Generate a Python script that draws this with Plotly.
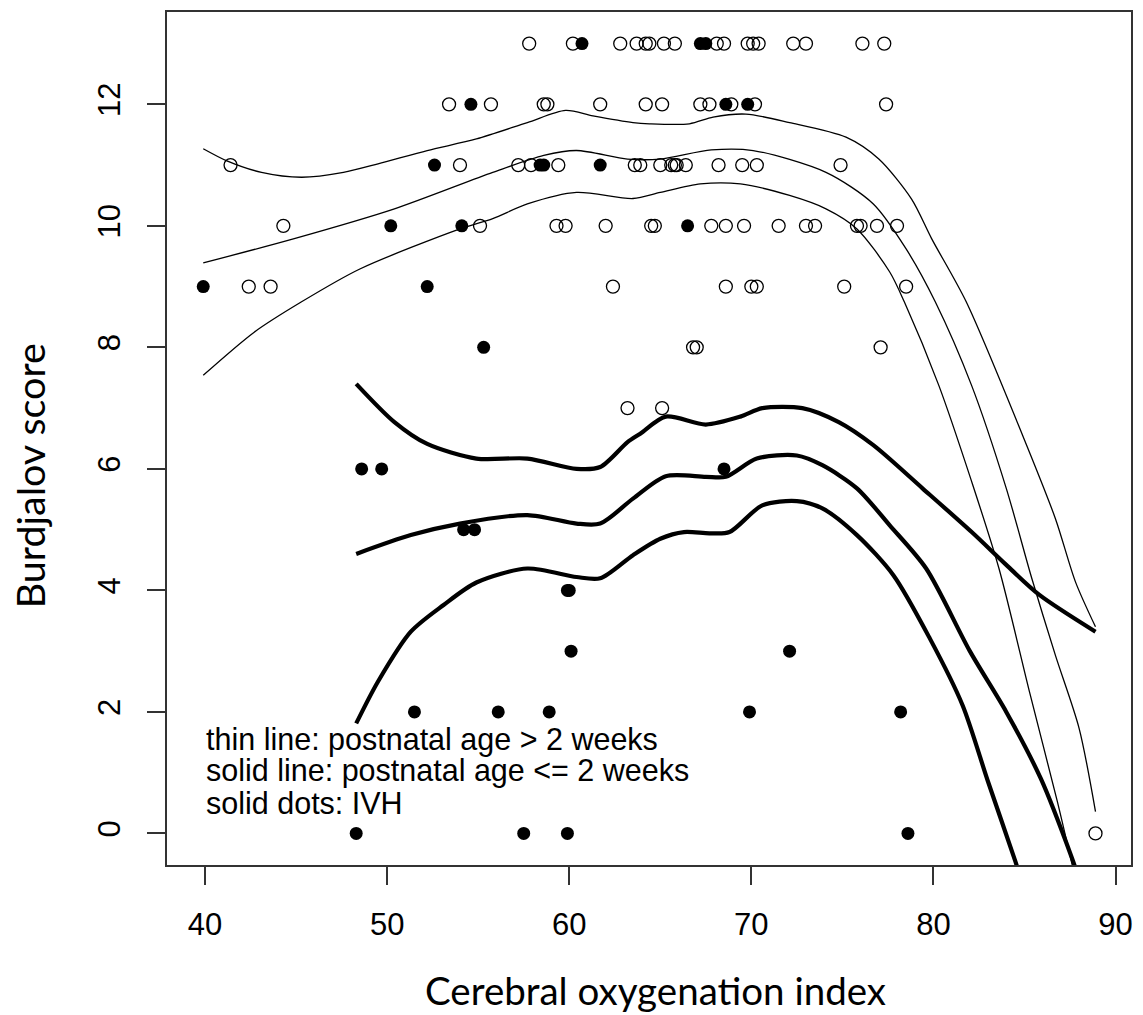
import plotly.graph_objects as go

# Scatter data: cerebral oxygenation index vs Burdjalov score
cox_open = [57.8, 60.2, 62.8, 63.7, 64.2, 64.4, 65.2, 65.8, 68.1, 68.5, 69.8, 70.1, 70.4, 72.3, 73.0, 76.1, 77.3,
            53.4, 55.7, 58.6, 58.8, 61.7, 64.2, 65.1, 67.2, 67.7, 68.9, 70.2, 77.4,
            41.4, 54.0, 57.2, 57.9, 59.4, 63.6, 63.9, 65.0, 65.6, 65.8, 65.9, 66.4, 68.2, 69.5, 70.3, 74.9,
            44.3, 55.1, 59.3, 59.8, 62.0, 64.5, 64.7, 67.8, 68.6, 69.6, 71.5, 73.0, 73.5, 75.8, 76.0, 76.9, 78.0,
            42.4, 43.6, 62.4, 68.6, 70.0, 70.3, 75.1, 78.5,
            66.8, 67.0, 77.1,
            63.2, 65.1,
            88.9]
score_open = [13] * 17 + [12] * 12 + [11] * 16 + [10] * 17 + [9] * 8 + [8] * 3 + [7] * 2 + [0]

cox_ivh = [60.7, 67.2, 67.5,
           54.6, 68.6, 69.8,
           52.6, 58.4, 58.6, 61.7,
           50.2, 54.1, 66.5,
           39.9, 52.2,
           55.3,
           48.6, 49.7, 68.5,
           54.2, 54.8,
           59.9, 60.0,
           60.1, 72.1,
           51.5, 56.1, 58.9, 69.9, 78.2,
           48.3, 57.5, 59.9, 78.6]
score_ivh = [13] * 3 + [12] * 3 + [11] * 4 + [10] * 3 + [9] * 2 + [8] + [6] * 3 + [5] * 2 + [4] * 2 + [3] * 2 + [2] * 5 + [0] * 4

# Smoothed fits with confidence bands, postnatal age > 2 weeks (thin)
thin_fit_x = [39.9, 44.9, 50.4, 55.8, 58.6, 60.4, 63.2, 65.0, 67.8, 70.1, 74.1, 76.7, 78.5, 80.1, 82.1, 84.0, 85.4, 86.7, 88.0, 88.9]
thin_fit_y = [9.39, 9.79, 10.28, 10.88, 11.16, 11.24, 11.10, 11.10, 11.25, 11.24, 10.88, 10.36, 9.62, 8.75, 7.37, 5.68, 4.20, 2.93, 1.73, 0.36]
thin_up_x = [39.9, 41.2, 43.1, 45.3, 47.6, 49.5, 52.2, 54.9, 57.7, 59.8, 61.3, 63.5, 64.4, 66.6, 67.9, 69.7, 72.1, 75.2, 77.0, 78.8, 79.9, 81.8, 84.9, 86.7, 87.8, 88.9]
thin_up_y = [11.27, 11.07, 10.88, 10.80, 10.88, 11.02, 11.24, 11.43, 11.70, 11.90, 11.81, 11.70, 11.68, 11.68, 11.79, 11.84, 11.70, 11.46, 11.10, 10.44, 9.79, 8.75, 6.55, 5.18, 4.14, 3.40]
thin_lo_x = [39.9, 42.7, 45.3, 48.5, 54.0, 55.8, 57.7, 60.4, 63.5, 65.0, 67.2, 69.4, 72.1, 74.1, 75.8, 77.6, 78.4, 80.3, 82.1, 83.6, 85.3, 86.8, 87.8]
thin_lo_y = [7.54, 8.25, 8.75, 9.29, 9.95, 10.12, 10.36, 10.55, 10.45, 10.55, 10.69, 10.69, 10.50, 10.28, 9.95, 9.24, 8.75, 7.37, 5.79, 4.36, 2.30, 0.53, -0.75]

# Smoothed fits with confidence bands, postnatal age <= 2 weeks (thick)
thick_fit_x = [48.3, 51.3, 54.0, 57.7, 60.4, 61.7, 63.5, 65.3, 67.5, 68.6, 70.3, 72.5, 73.9, 75.8, 77.6, 79.6, 82.0, 84.0, 85.9, 87.6, 88.0]
thick_fit_y = [4.60, 4.91, 5.10, 5.24, 5.10, 5.10, 5.51, 5.88, 5.87, 5.87, 6.17, 6.22, 6.06, 5.68, 5.07, 4.36, 3.00, 2.00, 0.90, -0.40, -0.75]
thick_up_x = [48.3, 50.4, 52.2, 54.9, 57.7, 60.4, 61.7, 63.2, 63.9, 65.3, 67.5, 69.4, 70.6, 72.8, 74.8, 76.7, 79.4, 82.1, 84.0, 85.8, 88.9]
thick_up_y = [7.40, 6.77, 6.41, 6.17, 6.17, 6.00, 6.03, 6.44, 6.58, 6.86, 6.73, 6.86, 7.00, 7.00, 6.77, 6.39, 5.68, 4.96, 4.42, 3.93, 3.32]
thick_lo_x = [48.3, 49.5, 51.3, 53.1, 54.9, 57.7, 60.4, 61.7, 63.5, 65.0, 66.3, 67.7, 68.8, 70.6, 72.5, 73.9, 75.8, 77.8, 79.8, 81.6, 83.0, 84.5, 84.8]
thick_lo_y = [1.81, 2.50, 3.32, 3.76, 4.13, 4.36, 4.22, 4.20, 4.58, 4.85, 4.96, 4.94, 4.96, 5.40, 5.47, 5.35, 4.91, 4.25, 3.21, 2.11, 0.85, -0.46, -0.75]

x_ticks = [40, 50, 60, 70, 80, 90]
y_ticks = [0, 2, 4, 6, 8, 10, 12]
note_lines = ["thin line: postnatal age > 2 weeks",
              "solid line: postnatal age <= 2 weeks",
              "solid dots: IVH"]
note_y = [1.55, 1.04, 0.50]

fig = go.Figure()

def add_curve(xs, ys, width):
    fig.add_trace(go.Scatter(x=xs, y=ys, mode="lines",
                             line=dict(color="black", width=width, shape="spline", smoothing=0.8),
                             hoverinfo="skip", showlegend=False))

for xs, ys in [(thin_up_x, thin_up_y), (thin_fit_x, thin_fit_y), (thin_lo_x, thin_lo_y)]:
    add_curve(xs, ys, 1.3)
for xs, ys in [(thick_up_x, thick_up_y), (thick_fit_x, thick_fit_y), (thick_lo_x, thick_lo_y)]:
    add_curve(xs, ys, 4.2)

fig.add_trace(go.Scatter(x=cox_open, y=score_open, mode="markers",
                         marker=dict(symbol="circle-open", size=13, color="black", line=dict(width=1.3, color="black")),
                         showlegend=False))
fig.add_trace(go.Scatter(x=cox_ivh, y=score_ivh, mode="markers",
                         marker=dict(symbol="circle", size=13, color="black"),
                         showlegend=False))

axis_font = dict(family="Liberation Sans, Arial, sans-serif", size=31, color="black")

fig.update_xaxes(range=[37.91, 90.85], tickvals=x_ticks, ticks="outside", ticklen=18, tickwidth=1.5,
                 tickcolor="#333", showline=True, linecolor="#333", linewidth=1.8, mirror=True,
                 showgrid=False, zeroline=False, tickfont=axis_font, ticklabelstandoff=13)
fig.update_yaxes(range=[-0.52, 13.52], tickvals=y_ticks, ticks="outside", ticklen=18, tickwidth=1.5,
                 tickcolor="#333", showline=True, linecolor="#333", linewidth=1.8, mirror=True,
                 showgrid=False, zeroline=False, tickfont=axis_font, tickangle=-90, ticklabelstandoff=15)

annotations = []
for txt, yv in zip(note_lines, note_y):
    annotations.append(dict(x=39.95, y=yv, xref="x", yref="y", text=txt, showarrow=False,
                            xanchor="left", yanchor="middle",
                            font=dict(family="Liberation Sans, Arial, sans-serif", size=30.5, color="black")))
annotations.append(dict(x=0.507, y=-0.146, xref="paper", yref="paper", text="Cerebral oxygenation index",
                        showarrow=False, xanchor="center", yanchor="middle",
                        font=dict(family="Lato, sans-serif", size=38.5, color="black")))
annotations.append(dict(x=-0.1429, y=0.456, xref="paper", yref="paper", text="Burdjalov score",
                        showarrow=False, xanchor="center", yanchor="middle", textangle=-90,
                        font=dict(family="Lato, sans-serif", size=39.5, color="black")))

fig.update_layout(width=1143, height=1015, margin=dict(l=167, r=10, t=10, b=150),
                  plot_bgcolor="white", paper_bgcolor="white", annotations=annotations)

fig.write_html("out.html")
